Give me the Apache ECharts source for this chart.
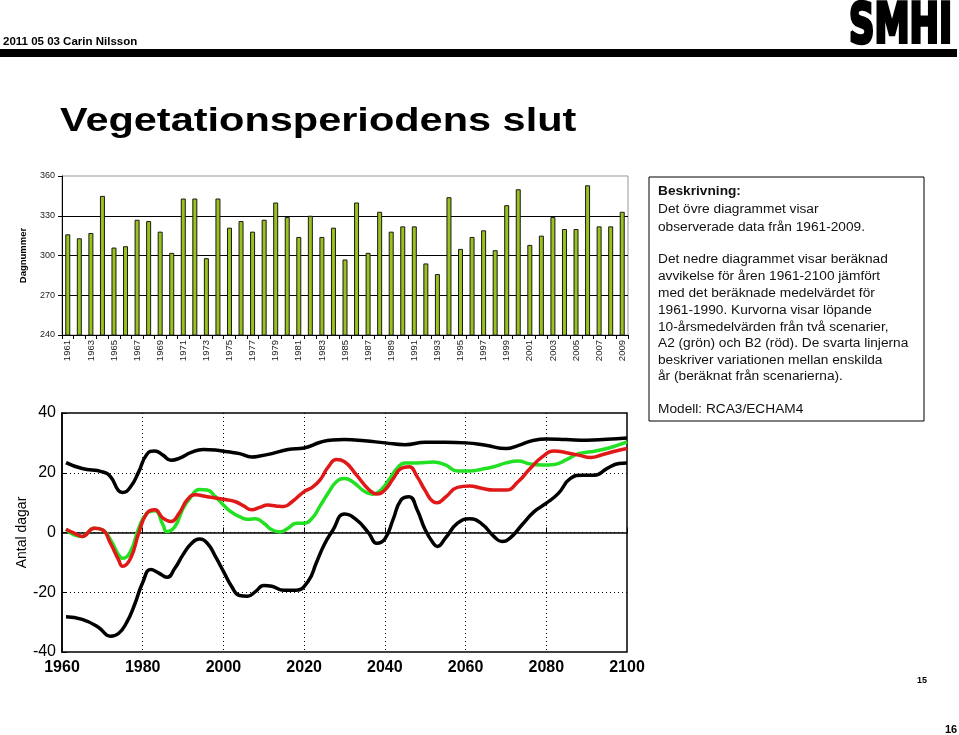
<!DOCTYPE html>
<html><head><meta charset="utf-8">
<script src="https://cdn.jsdelivr.net/npm/echarts@6/dist/echarts.min.js"></script>
<style>html,body{margin:0;padding:0;background:#fff}#c{width:959px;height:735px}</style>
</head><body><div id="c"></div>
<script>
// ---------- Data ----------
const barYears = ['1961','1962','1963','1964','1965','1966','1967','1968','1969','1970','1971','1972','1973','1974','1975','1976','1977','1978','1979','1980','1981','1982','1983','1984','1985','1986','1987','1988','1989','1990','1991','1992','1993','1994','1995','1996','1997','1998','1999','2000','2001','2002','2003','2004','2005','2006','2007','2008','2009'];
const barValues = [316,313,317,345,306,307,327,326,318,302,343,343,298,343,321,326,318,327,340,329,314,330,314,321,297,340,302,333,318,322,322,294,286,344,305,314,319,304,338,350,308,315,329,320,320,353,322,322,333];
const barYTicks = [240,270,300,330,360];

const upperBlack = [[1961,23.4],[1965,21.4],[1970,20.3],[1972,18.7],[1974,14],[1975,13.4],[1977,15.3],[1979,20.3],[1981,26.1],[1983,27.3],[1985,25.9],[1987,24.2],[1989,24.8],[1992,26.8],[1995,27.8],[1998,27.6],[2001,27],[2004,26.4],[2007,25.3],[2009,25.6],[2012,26.4],[2016,27.8],[2020,28.3],[2024,30.2],[2027,31],[2030,31.1],[2035,30.7],[2040,30],[2045,29.4],[2050,30.2],[2055,30.2],[2060,30],[2065,29.2],[2070,28.1],[2073,29.1],[2077,30.9],[2080,31.3],[2085,31.1],[2090,30.9],[2095,31.2],[2100,31.6]];
const lowerBlack = [[1961,-28.2],[1965,-29.1],[1969,-31.7],[1972,-34.7],[1974,-33.8],[1976,-30.2],[1978,-24.1],[1980,-16.7],[1982,-12.4],[1984,-13.6],[1986,-15],[1988,-11.9],[1990,-7.4],[1992,-3.8],[1994,-2.2],[1996,-3.6],[1998,-8],[2000,-13],[2002,-18],[2004,-21.1],[2006,-21.3],[2008,-19.7],[2010,-17.7],[2012,-18],[2015,-19.3],[2018,-19.3],[2021,-16.3],[2023,-10.2],[2025,-4],[2027,0.5],[2030,6.2],[2033,4.2],[2036,-0.2],[2038,-3.6],[2040,-2.2],[2042,4.2],[2044,10.9],[2046,12],[2048,7.6],[2050,0.9],[2052,-3.6],[2053,-4.7],[2055,-1.9],[2058,3.1],[2061,4.6],[2064,2.9],[2067,-1.3],[2069,-3],[2071,-1.9],[2074,2.6],[2077,7],[2080,9.8],[2083,13.1],[2086,18.1],[2089,19.2],[2092,19.2],[2095,21.4],[2098,23.1],[2100,23.3]];
const greenA2 = [[1961,1.1],[1963,-0.8],[1965,-1.3],[1968,1.4],[1970,0.9],[1972,-2.4],[1974,-7.4],[1975,-8.6],[1977,-6.3],[1979,1.4],[1981,6.4],[1983,7.3],[1985,2.6],[1986,0.3],[1988,2],[1990,8.1],[1992,12],[1994,14.4],[1996,14.2],[1998,12],[2000,9.2],[2002,6.8],[2004,5.3],[2006,4.4],[2008,4.6],[2010,3.1],[2012,0.9],[2014,0.2],[2016,1.4],[2018,3.1],[2020,3.1],[2022,4.8],[2024,9],[2026,13.3],[2028,17],[2030,18.1],[2032,17],[2035,13.7],[2037,12.8],[2039,14.2],[2041,17.6],[2043,21.4],[2045,23.3],[2048,23.3],[2052,23.6],[2055,22.6],[2058,20.6],[2061,20.6],[2064,21.2],[2067,22],[2070,23.3],[2073,23.9],[2076,22.9],[2079,22.6],[2082,22.8],[2085,24.4],[2088,26.4],[2091,27],[2094,27.8],[2097,28.9],[2100,30.3]];
const redB2 = [[1961,1.1],[1963,-0.2],[1965,-1.3],[1968,1.4],[1970,0.9],[1972,-3.6],[1974,-9.1],[1975,-11.3],[1977,-8.6],[1979,-0.2],[1981,6.4],[1983,7.6],[1985,4.8],[1987,3.7],[1989,6.4],[1991,10.9],[1993,12.6],[1996,12],[2000,11.1],[2003,10.3],[2005,8.9],[2007,7.6],[2009,8.4],[2011,9.2],[2013,8.9],[2015,8.7],[2017,10.3],[2020,13.7],[2022,15.1],[2024,17.7],[2026,22],[2028,24.4],[2030,23.7],[2033,19.2],[2036,14.4],[2038,12.9],[2040,14.2],[2042,17.9],[2044,21.4],[2046,22],[2048,18.7],[2050,14],[2052,10.3],[2053,10],[2055,11.8],[2058,15.1],[2061,15.6],[2064,14.8],[2067,14.2],[2070,14.2],[2073,17],[2076,21.4],[2079,25.3],[2082,27.3],[2085,26.7],[2088,25.9],[2091,25.1],[2094,26.1],[2097,27.2],[2100,28.1]];

const headerText = '2011 05 03 Carin Nilsson';
const titleText = 'Vegetationsperiodens slut';
const descLines = [
  ['Beskrivning:', true],
  ['Det övre diagrammet visar', false],
  ['observerade data från 1961-2009.', false],
  ['Det nedre diagrammet visar beräknad', false],
  ['avvikelse för åren 1961-2100 jämfört', false],
  ['med det beräknade medelvärdet för', false],
  ['1961-1990. Kurvorna visar löpande', false],
  ['10-årsmedelvärden från två scenarier,', false],
  ['A2 (grön) och B2 (röd). De svarta linjerna', false],
  ['beskriver variationen mellan enskilda', false],
  ['år (beräknat från scenarierna).', false],
  ['Modell: RCA3/ECHAM4', false]
];
const descY = [191,209,227,259,276,293,310,327,343,360,376,409];

// ---------- Chart ----------
const chart = echarts.init(document.getElementById('c'), null, {renderer:'canvas'});
const F = 'Liberation Sans, Arial, sans-serif';

const graphics = [
  {type:'text', left:3, top:36, style:{text:headerText, font:'bold 11.5px '+F, fill:'#000'}},
  {type:'rect', shape:{x:0,y:49,width:957,height:8}, style:{fill:'#000'}},
  {type:'text', x:849, y:-1, scaleX:0.7, style:{text:'SMHI', font:'bold 56px "DejaVu Sans Condensed", "DejaVu Sans"', fill:'#000', stroke:'#000', lineWidth:3.5, lineJoin:'miter'}},
  {type:'text', x:60, y:105, scaleX:1.22, style:{text:titleText, font:'bold 34px '+F, fill:'#000'}},
  {type:'rect', shape:{x:649,y:177,width:275,height:244}, style:{fill:'#fff', stroke:'#000', lineWidth:1}},
  {type:'text', x:917, y:681, style:{text:'15', font:'bold 9px '+F, fill:'#000', textVerticalAlign:'middle'}},
  {type:'text', x:945, y:730, style:{text:'16', font:'bold 11px '+F, fill:'#000', textVerticalAlign:'middle'}}
];
descLines.forEach((l,i)=>{
  graphics.push({type:'text', x:658, y:descY[i], style:{text:l[0], font:(l[1]?'bold ':'')+'13.7px '+F, fill:'#111', textVerticalAlign:'middle'}});
});

chart.setOption({
  animation:false,
  backgroundColor:'#fff',
  graphic: graphics,
  grid:[
    {left:62, top:176, width:566, height:159, show:true, borderColor:'#999', borderWidth:1, backgroundColor:'transparent'},
    {left:62, top:413, width:565, height:239, show:true, borderColor:'#000', borderWidth:1.5, backgroundColor:'transparent'}
  ],
  xAxis:[
    {gridIndex:0, type:'category', data:barYears, boundaryGap:true,
     axisLine:{lineStyle:{color:'#000', width:1}},
     axisTick:{show:true, interval:0, length:4, lineStyle:{color:'#000'}},
     axisLabel:{interval:1, rotate:90, fontSize:9.5, color:'#222', fontFamily:F, margin:5}},
    {gridIndex:1, type:'value', min:1960, max:2100, interval:20,
     axisLine:{lineStyle:{color:'#000', width:1.5}},
     axisTick:{show:true, inside:true, length:5, lineStyle:{color:'#000'}},
     axisLabel:{fontSize:16, fontWeight:'bold', color:'#000', fontFamily:F, margin:8, formatter:v=>String(v)},
     splitLine:{show:true, showMinLine:false, showMaxLine:false, lineStyle:{color:'#000', type:[1,3], width:1}}}
  ],
  yAxis:[
    {gridIndex:0, type:'value', min:240, max:360, interval:30,
     name:'Dagnummer', nameLocation:'middle', nameGap:34, nameRotate:90, nameMoveOverlap:false,
     nameTextStyle:{fontSize:9.5, fontWeight:'bold', color:'#000', fontFamily:F},
     axisLine:{show:true, lineStyle:{color:'#000'}},
     axisTick:{show:true, length:4, lineStyle:{color:'#000'}},
     axisLabel:{fontSize:9, color:'#222', fontFamily:F, margin:7},
     splitLine:{show:true, showMaxLine:false, lineStyle:{color:'#000', width:1}}},
    {gridIndex:1, type:'value', min:-40, max:40, interval:20,
     name:'Antal dagar', nameLocation:'middle', nameGap:33, nameRotate:90, nameMoveOverlap:false,
     nameTextStyle:{fontSize:14, color:'#000', fontFamily:F},
     axisLine:{show:true, lineStyle:{color:'#000', width:1.5}},
     axisTick:{show:true, inside:true, length:5, lineStyle:{color:'#000'}},
     axisLabel:{fontSize:16, color:'#000', fontFamily:F, margin:6},
     splitLine:{show:true, showMinLine:false, showMaxLine:false, lineStyle:{color:'#000', type:[1,3], width:1}}}
  ],
  series:[
    {type:'bar', xAxisIndex:0, yAxisIndex:0, data:barValues, barWidth:5,
     itemStyle:{color:'#99c21c', borderColor:'#1a1a1a', borderWidth:1}},
    {type:'line', xAxisIndex:1, yAxisIndex:1, data:upperBlack, smooth:0.5, showSymbol:false, lineStyle:{color:'#000', width:3.5}},
    {type:'line', xAxisIndex:1, yAxisIndex:1, data:lowerBlack, smooth:0.5, showSymbol:false, lineStyle:{color:'#000', width:3.5}},
    {type:'line', xAxisIndex:1, yAxisIndex:1, data:greenA2, smooth:0.5, showSymbol:false, lineStyle:{color:'#22e022', width:3.5}},
    {type:'line', xAxisIndex:1, yAxisIndex:1, data:redB2, smooth:0.5, showSymbol:false, lineStyle:{color:'#e01818', width:3.5}}
  ]
});
</script>
</body></html>
